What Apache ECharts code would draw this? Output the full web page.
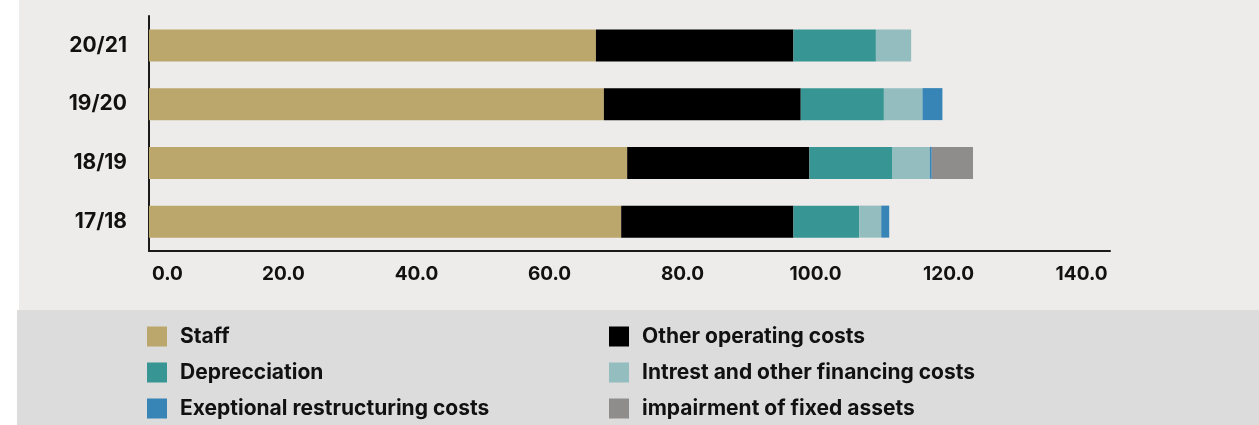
<!DOCTYPE html>
<html>
<head>
<meta charset="utf-8">
<title>Costs by year</title>
<script src="https://cdn.jsdelivr.net/npm/echarts@6/dist/echarts.min.js"></script>
<style>
  html, body { margin: 0; padding: 0; background: #fff; }
  #chart { width: 1259px; height: 425px; }
</style>
</head>
<body>
<div id="chart"></div>
<script>
// categories, bottom to top as the axis reads them
const years = ['17/18', '18/19', '19/20', '20/21']

// stacked values per year
const staff = [71.0, 71.9, 68.4, 67.2]
const otherCosts = [25.9, 27.4, 29.6, 29.7]
const depreciation = [9.9, 12.5, 12.5, 12.4]
const interest = [3.3, 5.6, 5.8, 5.3]
const restructuring = [1.2, 0.3, 3.0, 0]
const impairment = [0, 6.2, 0, 0]

const xTicks = [0, 20, 40, 60, 80, 100, 120, 140]

const seriesList = [
  { name: 'Staff', data: staff, color: '#bba66b' },
  { name: 'Other operating costs', data: otherCosts, color: '#000000' },
  { name: 'Depreciation', data: depreciation, color: '#379693' },
  { name: 'Intrest and other financing costs', data: interest, color: '#93bdbe' },
  { name: 'Exeptional restructuring costs', data: restructuring, color: '#3784b7' },
  { name: 'impairment of fixed assets', data: impairment, color: '#8e8d8b' },
]

// legend labels differ slightly from series names in the original
const legendLabels = {
  'Depreciation': 'Deprecciation',
}

const chart = echarts.init(document.getElementById('chart'))

const font = 'Inter, "Noto Sans", sans-serif'
const labelStyle = {
  color: '#111',
  fontFamily: font,
  fontWeight: 700,
  fontSize: 18,
}

// legend text is a bit bigger than the axis text
const legendText = { ...labelStyle, fontSize: 21, padding: [0, 0, 0, 8] }

// axis ends a little past the last tick, like the original
const axisMax = 144.5

chart.setOption({
  backgroundColor: '#ffffff',
  animation: false,
  graphic: [
    // light plot panel
    {
      type: 'rect',
      z: -100,
      silent: true,
      shape: { x: 19, y: 0, width: 1240, height: 310 },
      style: { fill: '#edecea' },
    },
    // darker legend panel
    {
      type: 'rect',
      z: -100,
      silent: true,
      shape: { x: 17, y: 310, width: 1242, height: 115 },
      style: { fill: '#dcdcdc' },
    },
  ],
  legend: [
    {
      orient: 'vertical',
      left: 147,
      top: 326,
      padding: 0,
      itemWidth: 20,
      itemHeight: 20,
      itemGap: 15,
      icon: 'rect',
      selectedMode: false,
      data: ['Staff', 'Depreciation', 'Exeptional restructuring costs'],
      formatter: (n) => legendLabels[n] || n,
      textStyle: legendText,
    },
    {
      orient: 'vertical',
      left: 609,
      top: 326,
      padding: 0,
      itemWidth: 20,
      itemHeight: 20,
      itemGap: 15,
      icon: 'rect',
      selectedMode: false,
      data: ['Other operating costs', 'Intrest and other financing costs', 'impairment of fixed assets'],
      textStyle: legendText,
    },
  ],
  grid: {
    left: 149,
    right: 1259 - 1110,
    top: 16,
    height: 235,
    containLabel: false,
  },
  xAxis: {
    type: 'value',
    min: 0,
    max: axisMax,
    interval: 20,
    axisLine: { show: true, lineStyle: { color: '#1a1a1a', width: 2 } },
    axisTick: { show: false },
    splitLine: { show: false },
    axisLabel: {
      ...labelStyle,
      fontSize: 19,
      margin: 14,
      showMaxLabel: false,
      alignMinLabel: 'left',
      padding: [0, 0, 0, 3],
      formatter: (v) => (xTicks.includes(v) ? v.toFixed(1) : ''),
    },
  },
  yAxis: {
    type: 'category',
    data: years,
    axisLine: { show: true, lineStyle: { color: '#1a1a1a', width: 2 } },
    axisTick: { show: false },
    axisLabel: { ...labelStyle, fontSize: 21, margin: 22 },
  },
  series: seriesList.map((s) => ({
    name: s.name,
    type: 'bar',
    stack: 'total',
    barWidth: 32,
    data: s.data,
    itemStyle: { color: s.color },
    emphasis: { disabled: true },
  })),
})
</script>
</body>
</html>
